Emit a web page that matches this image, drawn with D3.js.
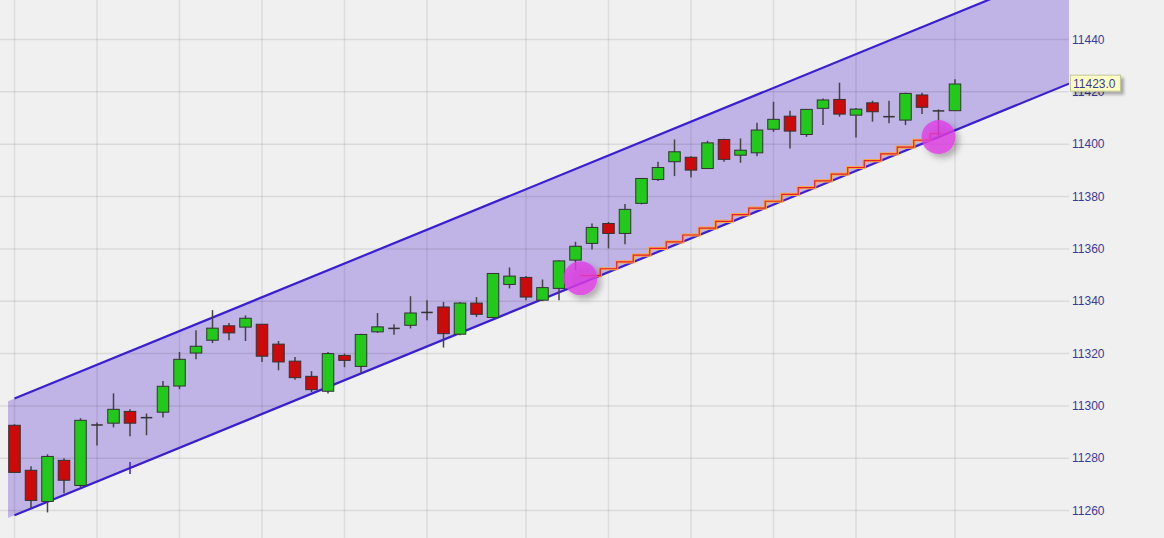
<!DOCTYPE html>
<html><head><meta charset="utf-8">
<script src="https://cdn.jsdelivr.net/npm/d3@7/dist/d3.min.js"></script>
<style>html,body{margin:0;padding:0;background:#f0f0f0;overflow:hidden}</style>
</head><body>
<svg id="chart" width="1164" height="538"></svg>
<script>
// ---- data ----
const opens  = [11292.6,11275.4,11263.5,11279.2,11269.6,11293.0,11293.4,11297.9,11295.8,11297.6,
  11307.6,11320.2,11325.1,11330.6,11330.1,11331.2,11323.6,11317.1,11311.3,11305.6,
  11319.3,11315.1,11328.3,11329.9,11330.8,11336.0,11337.8,11327.4,11339.3,11333.8,
  11346.4,11349.1,11340.4,11344.9,11355.7,11362.1,11369.7,11365.9,11377.4,11386.5,
  11393.3,11395.0,11390.7,11401.8,11395.8,11396.7,11405.7,11410.7,11403.7,11413.7,
  11417.1,11411.1,11415.8,11410.8,11409.2,11418.8,11413.0,11412.8];
const highs  = [11293.0,11276.9,11281.5,11280.0,11295.3,11293.7,11304.8,11298.7,11297.1,11309.5,
  11320.6,11328.9,11336.6,11331.7,11334.6,11331.2,11324.8,11318.7,11313.3,11320.6,
  11320.0,11327.6,11335.5,11331.2,11341.9,11340.4,11339.7,11339.7,11341.6,11350.8,
  11352.9,11349.6,11348.3,11355.7,11362.7,11369.7,11370.3,11377.1,11387.0,11393.3,
  11401.8,11395.4,11401.3,11402.1,11402.2,11408.2,11416.2,11412.8,11413.4,11417.5,
  11423.5,11413.8,11416.6,11416.6,11419.7,11419.7,11413.3,11424.8];
const lows   = [11274.6,11260.8,11259.3,11266.6,11268.9,11284.9,11291.8,11288.4,11288.8,11295.6,
  11306.4,11317.8,11324.0,11325.1,11324.8,11316.8,11313.6,11310.0,11305.3,11304.7,
  11314.8,11312.4,11327.9,11327.2,11329.6,11332.7,11322.3,11327.0,11334.0,11333.5,
  11344.9,11340.4,11340.0,11340.4,11351.9,11359.8,11360.2,11361.8,11377.0,11385.9,
  11387.8,11387.3,11390.5,11393.3,11392.9,11395.4,11404.7,11398.4,11402.8,11407.3,
  11410.5,11402.6,11408.6,11408.0,11407.3,11411.5,11402.2,11412.8];
const closes = [11274.6,11263.9,11280.7,11271.6,11294.5,11292.6,11298.7,11293.4,11295.5,11307.5,
  11317.8,11322.8,11329.7,11327.9,11333.5,11319.0,11316.8,11310.8,11306.2,11320.0,
  11317.4,11327.3,11330.2,11329.7,11335.5,11335.8,11327.6,11339.3,11335.0,11350.6,
  11349.6,11341.6,11345.2,11355.4,11361.0,11368.2,11365.9,11375.1,11386.9,11391.1,
  11397.1,11390.1,11400.5,11394.2,11397.7,11405.4,11409.5,11405.0,11413.3,11416.9,
  11411.5,11413.4,11412.4,11410.6,11419.4,11414.1,11412.8,11423.0];
const yTicks = [11260,11280,11300,11320,11340,11360,11380,11400,11420,11440];
const gridBars = [0,5,10,15,20,25,31,36,41,46,51,57];
const channelBars = [0,57];
const channelLow  = [11258.2,11405.3];
const channelHigh = [11302.8,11449.9];
const stairStartBar = 34.3;
const stairValues = [11349.8,11352.4,11355.0,11357.6,11360.2,11362.7,11365.3,11367.9,11370.5,11373.1,
  11375.6,11378.2,11380.8,11383.4,11386.0,11388.6,11391.1,11393.7,11396.3,11398.9,11401.5,11404.0];
const circleBars = [34.3,56.0];
const circleVals = [11348.8,11402.7];
const pivotBars = [7];
const pivotVals = [11276.3];
const lastLabel = "11423.0";

// ---- layout ----
const W=1164,H=538, plotL=8, plotR=1069;
const svg=d3.select("#chart");
const x=d3.scaleLinear().domain([0,57]).range([14.5,955]);
const y=d3.scaleLinear().domain([11260,11440]).range([510.6,39.5]);
const lowF=d3.scaleLinear().domain(channelBars).range(channelLow);
const highF=d3.scaleLinear().domain(channelBars).range(channelHigh);
const barL=x.invert(plotL), barR=x.invert(plotR);

const defs=svg.append("defs");
defs.append("clipPath").attr("id","plotclip").append("rect").attr("x",0).attr("y",0).attr("width",plotR).attr("height",H);
const f=defs.append("filter").attr("id","shadow").attr("x","-50%").attr("y","-50%").attr("width","200%").attr("height","200%");
f.append("feDropShadow").attr("dx",4).attr("dy",4).attr("stdDeviation",3).attr("flood-color","#000").attr("flood-opacity",0.35);
const f2=defs.append("filter").attr("id","boxshadow").attr("x","-20%").attr("y","-50%").attr("width","150%").attr("height","200%");
f2.append("feDropShadow").attr("dx",3).attr("dy",3).attr("stdDeviation",1.5).attr("flood-color","#000").attr("flood-opacity",0.3);

svg.append("rect").attr("width",W).attr("height",H).attr("fill","#f0f0f0");

const plot=svg.append("g").attr("clip-path","url(#plotclip)");

// band
const bandPts=[[barL,highF(barL)],[barR,highF(barR)],[barR,lowF(barR)],[barL,lowF(barL)]];
plot.append("path").attr("d","M"+bandPts.map(p=>[x(p[0]),y(p[1])].join(",")).join("L")+"Z")
  .attr("fill","#c0b3e6");

// grid
plot.append("g").selectAll("line").data(yTicks).join("line")
  .attr("x1",0).attr("x2",plotR).attr("y1",d=>y(d)).attr("y2",d=>y(d))
  .attr("stroke","rgba(0,0,0,0.09)").attr("stroke-width",1.5);
plot.append("g").selectAll("line").data(gridBars).join("line")
  .attr("x1",d=>x(d)).attr("x2",d=>x(d)).attr("y1",0).attr("y2",H)
  .attr("stroke","rgba(0,0,0,0.08)").attr("stroke-width",1.5);

// channel lines
const lineCol="#3a1fd0";
plot.append("line").attr("x1",x(0)).attr("y1",y(highF(0))).attr("x2",x(barR)).attr("y2",y(highF(barR)))
  .attr("stroke",lineCol).attr("stroke-width",2.2);
plot.append("line").attr("x1",x(0)).attr("y1",y(lowF(0))).attr("x2",x(barR)).attr("y2",y(lowF(barR)))
  .attr("stroke",lineCol).attr("stroke-width",2.2);
plot.selectAll(".pivot").data(pivotBars).join("line").attr("class","pivot")
  .attr("x1",d=>x(d)).attr("x2",d=>x(d))
  .attr("y1",(d,i)=>y(pivotVals[i])-6).attr("y2",(d,i)=>y(pivotVals[i])+6)
  .attr("stroke",lineCol).attr("stroke-width",1.5);

// staircase
const stairPts=stairValues.map((v,k)=>[k===0?stairStartBar:35+k-0.5, v]);
stairPts.push([56.2, stairValues[stairValues.length-1]]);
const stairLine=d3.line().x(d=>x(d[0])).y(d=>y(d[1])).curve(d3.curveStepAfter);
plot.append("path").attr("d",stairLine(stairPts)).attr("fill","none").attr("stroke","#f6a84a").attr("stroke-width",3.2);
plot.append("path").attr("d",stairLine(stairPts)).attr("fill","none").attr("stroke","#e3202c").attr("stroke-width",1.2);

// candles
const idx=d3.range(opens.length);
const bw=11.5;
const cg=plot.append("g");
cg.selectAll(".wick").data(idx).join("line")
  .attr("x1",i=>x(i)).attr("x2",i=>x(i)).attr("y1",i=>y(highs[i])).attr("y2",i=>y(lows[i]))
  .attr("stroke","#444").attr("stroke-width",1.5);
cg.selectAll(".body").data(idx).join("rect")
  .attr("x",i=>x(i)-bw/2).attr("width",bw)
  .attr("y",i=>y(Math.max(opens[i],closes[i])))
  .attr("height",i=>Math.max(1.5,Math.abs(y(opens[i])-y(closes[i]))))
  .attr("fill",i=>Math.abs(opens[i]-closes[i])<0.6?"#333":(closes[i]>=opens[i]?"#22c81a":"#cc0a0a"))
  .attr("stroke","#333").attr("stroke-width",i=>Math.abs(opens[i]-closes[i])<0.6?0:1);

// circles
plot.selectAll(".mark").data(circleBars).join("circle")
  .attr("cx",d=>x(d)).attr("cy",(d,i)=>y(circleVals[i])).attr("r",17)
  .attr("fill","#e03ce6").attr("fill-opacity",0.78).attr("filter","url(#shadow)");

// axis labels
svg.append("g").selectAll("text").data(yTicks).join("text")
  .attr("x",1072).attr("y",d=>y(d)).attr("dy","0.35em")
  .attr("font-family","Liberation Sans, Arial, sans-serif").attr("font-size",12)
  .attr("fill","#3a3a98").text(d=>d);

// last value box
const by=y(lowF(barR));
svg.append("rect").attr("x",1070.5).attr("y",by-8.5).attr("width",50).attr("height",16)
  .attr("fill","#ffffc4").attr("stroke","#c4c49a").attr("stroke-width",1).attr("filter","url(#boxshadow)");
svg.append("text").attr("x",1073).attr("y",by).attr("dy","0.35em")
  .attr("font-family","Liberation Sans, Arial, sans-serif").attr("font-size",12)
  .attr("fill","#3a3a98").text(lastLabel);
</script>
</body></html>
